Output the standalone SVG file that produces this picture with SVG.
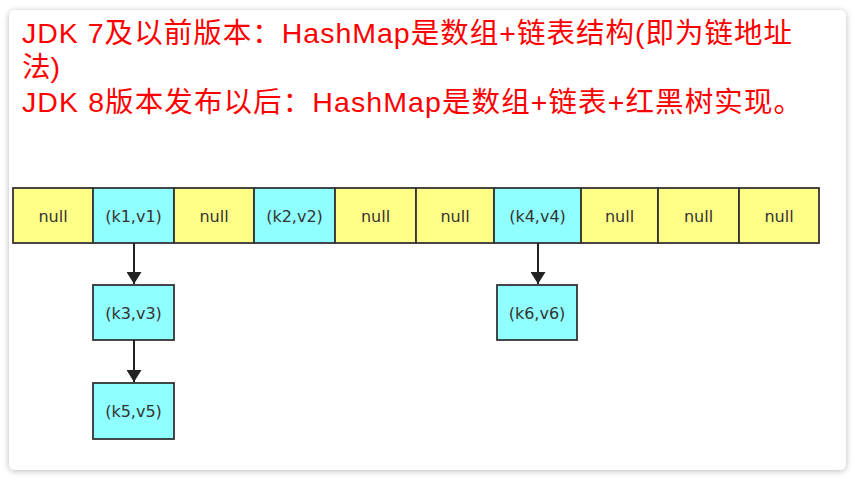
<svg xmlns="http://www.w3.org/2000/svg" width="855" height="480" viewBox="0 0 855 480">
<defs>
<filter id="sh" x="-5%" y="-5%" width="110%" height="110%">
<feDropShadow dx="0" dy="1" stdDeviation="3" flood-color="#000" flood-opacity="0.28"/>
</filter>
<marker id="ah" viewBox="0 0 12 15" refX="12" refY="7.5" markerWidth="12" markerHeight="15" markerUnits="userSpaceOnUse" orient="auto">
<path d="M0,0 L12,7.5 L0,15 Z" fill="#222"/>
</marker>
<style>
.t{font-family:"Liberation Sans","Noto Sans CJK SC",sans-serif;font-size:28.5px;fill:#ff0000}
.y{fill:#ffff88;stroke:#333;stroke-width:1.8}
.c{fill:#8fffff;stroke:#333;stroke-width:1.8}
.l{font-family:"DejaVu Sans",sans-serif;font-size:16px;fill:#333;text-anchor:middle}
.e{stroke:#222;stroke-width:2;fill:none}
</style>
</defs>
<rect width="855" height="480" fill="#ffffff"/>
<rect x="9" y="10" width="837" height="460" rx="6" fill="#ffffff" filter="url(#sh)"/>
<g id="title">
<text class="t" x="22" y="42.5" textLength="770" lengthAdjust="spacing">JDK 7及以前版本：HashMap是数组+链表结构(即为链地址</text>
<text class="t" x="22" y="77">法)</text>
<text class="t" x="22" y="111.5" textLength="780" lengthAdjust="spacing">JDK 8版本发布以后：HashMap是数组+链表+红黑树实现。</text>
</g>
<g id="n0"><rect class="y" x="13" y="188" width="80" height="55"/><text class="l" x="53" y="221.5">null</text></g>
<g id="n1"><rect class="c" x="93" y="188" width="81" height="55"/><text class="l" x="133.5" y="221.5">(k1,v1)</text></g>
<g id="n2"><rect class="y" x="174" y="188" width="80" height="55"/><text class="l" x="214" y="221.5">null</text></g>
<g id="n3"><rect class="c" x="254" y="188" width="81" height="55"/><text class="l" x="294.5" y="221.5">(k2,v2)</text></g>
<g id="n4"><rect class="y" x="335" y="188" width="81" height="55"/><text class="l" x="375.5" y="221.5">null</text></g>
<g id="n5"><rect class="y" x="416" y="188" width="78" height="55"/><text class="l" x="455" y="221.5">null</text></g>
<g id="n6"><rect class="c" x="494" y="188" width="87" height="55"/><text class="l" x="537.5" y="221.5">(k4,v4)</text></g>
<g id="n7"><rect class="y" x="581" y="188" width="77" height="55"/><text class="l" x="619.5" y="221.5">null</text></g>
<g id="n8"><rect class="y" x="658" y="188" width="81" height="55"/><text class="l" x="698.5" y="221.5">null</text></g>
<g id="n9"><rect class="y" x="739" y="188" width="80" height="55"/><text class="l" x="779" y="221.5">null</text></g>
<g id="k3"><rect class="c" x="93" y="285" width="81" height="55"/><text class="l" x="133.5" y="318.5">(k3,v3)</text></g>
<g id="k5"><rect class="c" x="93" y="383" width="81" height="56"/><text class="l" x="133.5" y="417">(k5,v5)</text></g>
<g id="k6"><rect class="c" x="497" y="285" width="80" height="55"/><text class="l" x="537" y="318.5">(k6,v6)</text></g>
<g id="connectors">
<line class="e" x1="134" y1="243" x2="134" y2="284" marker-end="url(#ah)"/>
<line class="e" x1="134" y1="340" x2="134" y2="382" marker-end="url(#ah)"/>
<line class="e" x1="538" y1="243" x2="538" y2="284" marker-end="url(#ah)"/>
</g>
</svg>
